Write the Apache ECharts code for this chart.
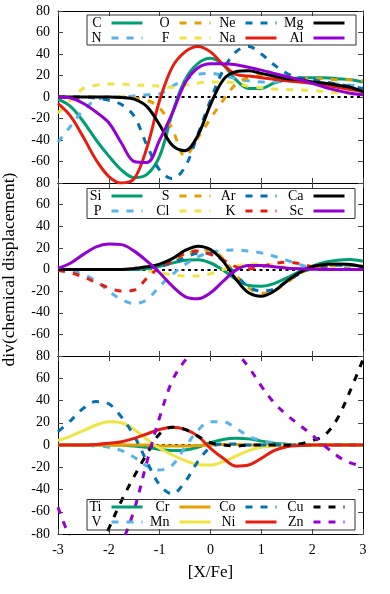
<!DOCTYPE html>
<html><head><meta charset="utf-8">
<script src="https://cdn.jsdelivr.net/npm/echarts@6/dist/echarts.min.js"></script>
<style>html,body{margin:0;padding:0;background:#fff}#c{width:390px;height:594px}</style>
</head><body><div id="c"></div>
<script>
// x sample positions ([X/Fe])
const xs = [-3,-2.75,-2.5,-2.25,-2,-1.75,-1.5,-1.25,-1,-0.75,-0.5,-0.25,0,0.25,0.5,0.75,1,1.25,1.5,1.75,2,2.25,2.5,2.75,3];

// Panel 1
const C  = [-2,-9,-23,-40,-55,-68,-75,-72,-55,-15,16,31,36,30,16,8,8,13,16,18,18,18,17,16,14];
const N  = [-42,-27,-12,-3,0,0,1,2,3,10,16,21,22,20,17,15,14,14,15,15,14,13,12,11,10];
const O  = [0,0,0,0,0,0,-1,-3,-10,-30,-55,-38,-20,-3,12,18,20,19,18,18,17,17,16,16,15];
const F  = [-15,-3,8,11,12,12,11,11,10,9,11,13,14,14,13,10,8.5,7.5,7,6.5,6,5,4,3.5,3];
const Ne = [0,0,0,-1,-3,-7,-18,-45,-68,-76,-65,-35,-3,25,42,47,40,30,22,18,16,14,12,10,8];
const Na = [-6,-18,-37.5,-58.6,-74,-80,-76,-47,-3,28,42,47,42,30,21,19.5,18,16.5,15,14,12.7,11,9,7,5];
const Mg = [0,0,0,0,0,-0.5,-2,-9,-26,-45,-50,-36,-7,16,23.6,24.5,22,19.5,17,16,14,12.7,11,9,5];
const Al = [0,-1,-6,-14,-24,-43,-60,-61,-40,-15,13,27,31,31,30,27.6,25,22,19,16,12.7,9,6,3.4,2];

// Panel 2
const Si = [0,0,0,0,0,0,0,1,3,6,8.5,9,6,-0.6,-9,-14.8,-15.4,-13,-7.7,-2,3,6.8,8.6,9.2,7.7];
const P  = [0,-1.2,-4.6,-10.8,-20,-27.8,-31.5,-27.8,-15.4,-4.6,4.6,11.7,16,17.6,18,17,15.4,12.3,8.6,4.6,1.5,0,0.6,2,2.5];
const S  = [0,0,0,0,0,0,0,1,3,7,13,18,18,10,-5,-17,-22,-20,-12,-4,1,3,4,4,3];
const Cl = [0,0,0,0,0,0,0,-1,-3,-5,-6,-6,-4,0,3,5,5,4,2,1,0,0,0,0,0];
const Ar = [0,0,0,0,0,0,0,1,3,6,11,15,15,8,-5,-16,-20,-18,-11,-4,1,3,4,4,3];
const K  = [-1,-3,-7,-12,-17,-20,-19,-8,2,8,15,17,14,9,2.5,0.6,2.5,5.5,6.8,5.5,2.5,0.6,0,0,0];
const Ca = [0,0,0,0,0,0,1,2.5,5,10,17.6,21.6,18.5,7.7,-9,-21.6,-24.7,-20,-10.8,-3,2.5,4.6,5,4.6,2.5];
const Sc = [1,6,14,21,23.5,23,17,7.7,-3,-15.4,-25,-27,-21.6,-10.8,-0.6,3.7,3.7,2.5,1.2,0.6,0.3,0,0,0,0];

// Panel 3
const Ti = [0,0,0,0,0,0,-1,-2,-4,-5,-4.5,-2,2,5,6,5.5,3.5,1.5,0.5,0,0,0,0,0,0];
const V  = [0,0,0,-1,-2,-5,-11,-19,-22.5,-18,-2,13,21,21,15,8,4,2,1,0,0,0,0,0,0];
const Cr = [0,0,0,0,0,0,0,0,-1,-1,-1,-0.5,0,0.5,0.5,0,0,0,0,0,0,0,0,0,0];
const Mn = [4,8,13,18,21,20,14,5,-3,-9,-14,-17.5,-18,-15,-10,-5,-2,-1,0,0,0,0,0,0,0];
const Co = [12,22,33,39,37,25,8,-15,-36,-44,-33,-15,-2,1,1,0,0,0,0,0,0,0,0,0,0];
const Ni = [0,0,0,0.5,1.5,3,6,10,14,16,14,8,-3,-12,-19,-18,-12,-5,-1.5,-0.5,0,0,0,0,0];
const Cu = [-190,-160,-130,-100,-75,-50,-28,-8,10,16,14,8,2,0,-1,0,0,0,0,1,4,9,24,49,77];
const Zn = [-56,-85,-105,-110,-105,-88,-58,-15,25,58,76,88,92,90,83,70,53,38,27,18,9,-1,-10,-16,-19];

// axis ranges
const xMin = -3, xMax = 3, xStep = 1;
const yMin = -80, yMax = 80, yStep = 20;
const xTitle = '[X/Fe]';
const yTitle = 'div(chemical displacement)';

const FONT = 'Liberation Serif';
const COL = {green:'#009e73', lblue:'#56b4e9', orange:'#e69f00', yellow:'#f0e442', blue:'#0072b2', red:'#e51e10', black:'#000000', purple:'#9400d3'};
const DASH = [7, 8];

const panels = [
  {top: 11, height: 172, legendTop: 15.5, box: [87, 15, 269, 30],
   series: [['C',C,'green',0],['N',N,'lblue',1],['O',O,'orange',1],['F',F,'yellow',1],
            ['Ne',Ne,'blue',1],['Na',Na,'red',0],['Mg',Mg,'black',0],['Al',Al,'purple',0]]},
  {top: 183, height: 173, legendTop: 188.5, box: [87, 188.5, 268, 30],
   series: [['Si',Si,'green',0],['P',P,'lblue',1],['S',S,'orange',1],['Cl',Cl,'yellow',1],
            ['Ar',Ar,'blue',1],['K',K,'red',1],['Ca',Ca,'black',0],['Sc',Sc,'purple',0]]},
  {top: 356, height: 178, legendTop: 499.5, box: [87, 499.5, 268, 30.5],
   series: [['Ti',Ti,'green',0],['V',V,'lblue',1],['Cr',Cr,'orange',0],['Mn',Mn,'yellow',0],
            ['Co',Co,'blue',1],['Ni',Ni,'red',0],['Cu',Cu,'black',1],['Zn',Zn,'purple',1]]}
];
const legendRights = [246, 178, 112, 44];

const grid = [], xAxis = [], yAxis = [], series = [], legend = [], graphic = [];
const tickStyle = {show: true, inside: true, length: 5, lineStyle: {color: '#444', width: 1}};
const lineAxis = {show: true, onZero: false, lineStyle: {color: '#000', width: 1}};
const labelStyle = {fontFamily: FONT, fontSize: 14, color: '#000'};

panels.forEach((pn, p) => {
  grid.push({left: 58, width: 305, top: pn.top, height: pn.height, containLabel: false, outerBoundsMode: 'none'});
  const last = p === panels.length - 1;
  xAxis.push({type: 'value', gridIndex: p, position: 'bottom', min: xMin, max: xMax, interval: xStep,
    axisLine: lineAxis, axisTick: tickStyle, splitLine: {show: false},
    axisLabel: Object.assign({show: last, margin: 9}, labelStyle),
    name: last ? xTitle : '', nameLocation: 'middle', nameGap: 30,
    nameTextStyle: {fontFamily: FONT, fontSize: 17, color: '#000'}});
  xAxis.push({type: 'value', gridIndex: p, position: 'top', min: xMin, max: xMax, interval: xStep,
    axisLine: lineAxis, axisTick: tickStyle, splitLine: {show: false}, axisLabel: {show: false}});
  yAxis.push({type: 'value', gridIndex: p, position: 'left', min: yMin, max: yMax, interval: yStep,
    axisLine: lineAxis, axisTick: tickStyle, splitLine: {show: false},
    axisLabel: Object.assign({margin: 8, formatter: v => (!last && v === yMin) ? '' : String(v)}, labelStyle),
    name: p === 1 ? yTitle : '', nameLocation: 'middle', nameGap: 40,
    nameTextStyle: {fontFamily: FONT, fontSize: 17.5, color: '#000'}});
  yAxis.push({type: 'value', gridIndex: p, position: 'right', min: yMin, max: yMax, interval: yStep,
    axisLine: lineAxis, axisTick: tickStyle, splitLine: {show: false}, axisLabel: {show: false}});

  pn.series.forEach((s, i) => {
    const [name, arr, col, dashed] = s;
    const item = {
      type: 'line', name, xAxisIndex: p * 2, yAxisIndex: p * 2,
      data: xs.map((x, k) => [x, arr[k]]),
      smooth: 0.35, symbol: 'none', showSymbol: false, clip: true, z: 2,
      lineStyle: {color: COL[col], width: 3, type: dashed ? DASH : 'solid', cap: 'butt'},
      itemStyle: {color: COL[col]}, emphasis: {disabled: true}
    };
    if (i === 0) {
      item.markLine = {silent: true, symbol: 'none', z: 1, animation: false, label: {show: false},
        lineStyle: {color: '#000', width: 1.8, type: [3, 3.5]}, data: [{yAxis: 0}]};
    }
    series.push(item);
  });

  for (let k = 0; k < 4; k++) {
    legend.push({
      orient: 'vertical', align: 'right', right: legendRights[k], top: pn.legendTop,
      padding: 0, itemGap: 0, itemWidth: 31, itemHeight: 15, selectedMode: false,
      data: [pn.series[2 * k][0], pn.series[2 * k + 1][0]],
      textStyle: {fontFamily: FONT, fontSize: 14, color: '#000', lineHeight: 15, padding: [0, 5, 0, 0]},
      itemStyle: {opacity: 0, borderWidth: 0},
      lineStyle: {width: 3}
    });
  }
  const b = pn.box;
  graphic.push({type: 'rect', shape: {x: b[0], y: b[1], width: b[2], height: b[3]},
    style: {fill: 'none', stroke: '#333', lineWidth: 1}, z: 10, silent: true});
});

const chart = echarts.init(document.getElementById('c'), null, {renderer: 'canvas'});
chart.setOption({animation: false, backgroundColor: '#fff', grid, xAxis, yAxis, series, legend, graphic});
</script>
</body></html>
